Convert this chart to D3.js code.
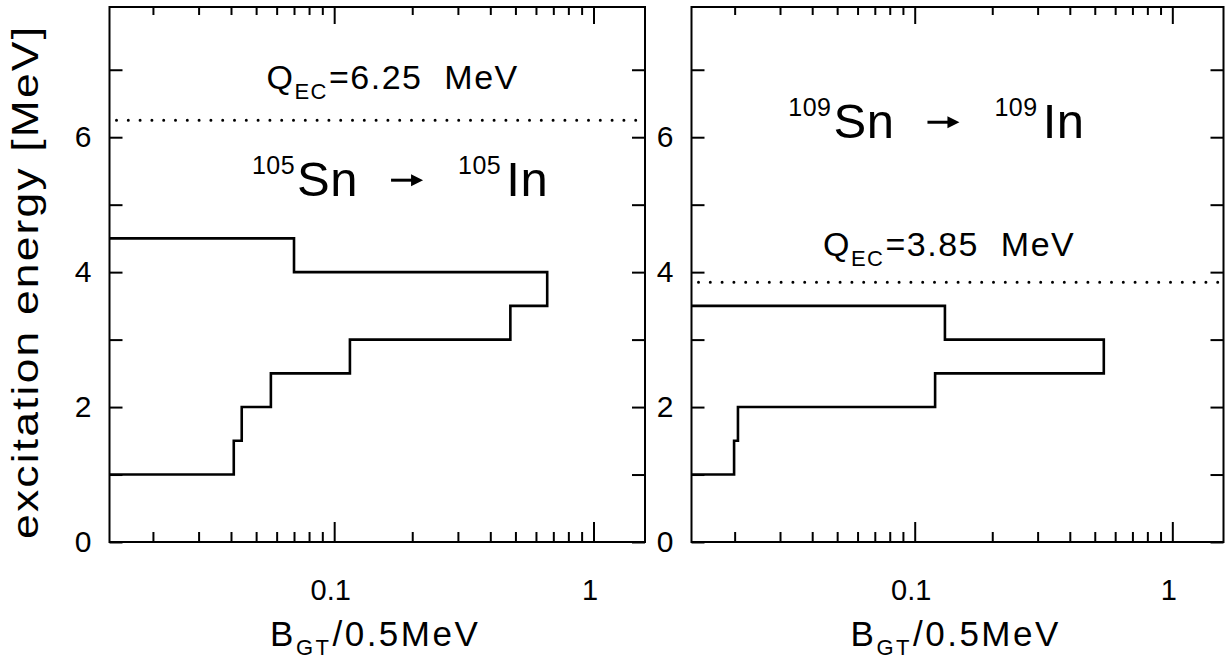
<!DOCTYPE html>
<html><head><meta charset="utf-8">
<script src="https://cdn.jsdelivr.net/npm/d3@7"></script>
<style>body{margin:0;background:#fff} svg{display:block}</style>
</head><body><svg id="chart" width="1227" height="663"></svg>
<script>
// ---- data ----
const leftEnergyLow = [1.0, 1.5, 2.0, 2.5, 3.0, 3.5, 4.0];
const leftBgt       = [0.041, 0.044, 0.057, 0.115, 0.478, 0.663, 0.070];
const rightEnergyLow = [1.0, 1.5, 2.0, 2.5, 3.0];
const rightBgt       = [0.0199, 0.0206, 0.120, 0.542, 0.131];
const binWidth = 0.5;
const qecLeft = 6.25;
const qecRight = 3.85;
const yTickValues = [0, 1, 2, 3, 4, 5, 6, 7];
const yTickLabels = ["0", "", "2", "", "4", "", "6", ""];
const xMajorTicks = [0.1, 1];
const xMajorLabels = ["0.1", "1"];
const xMinorTicks = [0.02,0.03,0.04,0.05,0.06,0.07,0.08,0.09,0.2,0.3,0.4,0.5,0.6,0.7,0.8,0.9];
const xDomain = [0.0136, 1.58];
const yDomain = [0, 7.93];

const FONT = "'Liberation Sans', Arial, sans-serif";
const svg = d3.select("#chart");
const yTop = 7, yBottom = 542;

const panels = [
  { x0: 109.5, x1: 645, energy: leftEnergyLow, bgt: leftBgt, qec: qecLeft,
    qLabel: "6.25", qAnchor: [0.168, 6.71], arrow: [0.191, 5.363], nuc: "105" },
  { x0: 691.5, x1: 1223.5, energy: rightEnergyLow, bgt: rightBgt, qec: qecRight,
    qLabel: "3.85", qAnchor: [0.136, 4.24], arrow: [0.1293, 6.222], nuc: "109" }
];

function rich(g, x, y, anchor, parts, ls) {
  const t = g.append("text").attr("x", x).attr("y", y)
    .attr("text-anchor", anchor).style("font-family", FONT)
    .style("white-space", "pre").style("letter-spacing", ls + "px").attr("fill", "#000");
  let prev = 0;
  parts.forEach(p => {
    const s = p.shift || 0;
    const ts = t.append("tspan").attr("dy", s - prev).style("font-size", p.size + "px").text(p.t);
    if (p.dx) ts.attr("dx", p.dx);
    prev = s;
  });
  return t;
}

panels.forEach(p => {
  const x = d3.scaleLog().domain(xDomain).range([p.x0, p.x1]);
  const y = d3.scaleLinear().domain(yDomain).range([yBottom, yTop]);
  const g = svg.append("g");

  const styleAxis = (sel) => {
    sel.select(".domain").remove();
    sel.selectAll("line").attr("stroke", "#000").attr("stroke-width", 2);
    sel.selectAll("text").style("font-family", FONT).attr("fill", "#000");
  };
  g.append("g").attr("transform", `translate(0,${yBottom})`)
    .call(d3.axisBottom(x).tickValues(xMinorTicks).tickSize(-10).tickFormat("")).call(styleAxis);
  g.append("g").attr("transform", `translate(0,${yBottom})`)
    .call(d3.axisBottom(x).tickValues(xMajorTicks).tickSize(-20).tickPadding(37)
      .tickFormat((d, i) => xMajorLabels[i])).call(styleAxis)
    .selectAll("text").style("font-size", "29px").attr("dx", -4);
  g.append("g").attr("transform", `translate(0,${yTop})`)
    .call(d3.axisTop(x).tickValues(xMinorTicks).tickSize(-8).tickFormat("")).call(styleAxis);
  g.append("g").attr("transform", `translate(0,${yTop})`)
    .call(d3.axisTop(x).tickValues(xMajorTicks).tickSize(-17).tickFormat("")).call(styleAxis);
  g.append("g").attr("transform", `translate(${p.x0},0)`)
    .call(d3.axisLeft(y).tickValues(yTickValues).tickSize(-13).tickPadding(18)
      .tickFormat((d, i) => yTickLabels[i])).call(styleAxis)
    .selectAll("text").style("font-size", "30px");
  g.append("g").attr("transform", `translate(${p.x1},0)`)
    .call(d3.axisRight(y).tickValues(yTickValues).tickSize(-13).tickFormat("")).call(styleAxis);

  g.append("rect").attr("x", p.x0).attr("y", yTop).attr("width", p.x1 - p.x0).attr("height", yBottom - yTop)
    .attr("fill", "none").attr("stroke", "#000").attr("stroke-width", 2);

  let d = `M${x(xDomain[0])},${y(p.energy[0])}`;
  p.energy.forEach((e, i) => {
    d += `H${x(p.bgt[i])}V${y(e + binWidth)}`;
  });
  d += `H${x(xDomain[0])}`;
  g.append("path").attr("d", d).attr("fill", "none").attr("stroke", "#000")
    .attr("stroke-width", 2.6).attr("stroke-linejoin", "miter");

  g.append("line").attr("x1", x(xDomain[0]) + 7).attr("x2", x(xDomain[1]))
    .attr("y1", y(p.qec)).attr("y2", y(p.qec))
    .attr("stroke", "#000").attr("stroke-width", 3).attr("stroke-linecap", "round")
    .attr("stroke-dasharray", "0,11.8");

  // Q_EC label
  rich(g, x(p.qAnchor[0]), y(p.qAnchor[1]), "middle", [
    { t: "Q", size: 34 }, { t: "EC", size: 22, shift: 10 },
    { t: "=" + p.qLabel + "  MeV", size: 34, shift: 0, dx: 1 }
  ], 1.5);

  // reaction label: parent -> arrow -> daughter
  const ax = x(p.arrow[0]), ay = y(p.arrow[1]);
  rich(g, ax - 49, ay + 15.5, "end", [
    { t: p.nuc, size: 25, shift: -22 }, { t: "Sn", size: 49, shift: 0, dx: 2 }
  ], 0.5);
  rich(g, ax + 51, ay + 15.5, "start", [
    { t: p.nuc, size: 25, shift: -22 }, { t: "In", size: 49, shift: 0, dx: 5 }
  ], 0.5);
  g.append("path")
    .attr("d", `M${ax - 16},${ay}H${ax + 6}`)
    .attr("stroke", "#000").attr("stroke-width", 3);
  g.append("path")
    .attr("d", `M${ax + 16},${ay}L${ax + 4},${ay - 6}L${ax + 4},${ay + 6}Z`)
    .attr("fill", "#000");

  // x title
  rich(g, x(0.1) + 41, 646, "middle", [
    { t: "B", size: 35 }, { t: "GT", size: 22, shift: 9 }, { t: "/0.5MeV", size: 35, shift: 0, dx: 1 }
  ], 2.5);
});

// y title (glyphs widened along the baseline like the plotter font)
svg.append("text").attr("transform", "translate(38,283) rotate(-90) scale(1.2,1)")
  .attr("text-anchor", "middle").style("font-family", FONT).style("font-size", "37px")
  .attr("textLength", 512 / 1.2).attr("lengthAdjust", "spacing")
  .text("excitation energy [MeV]");
</script></body></html>
